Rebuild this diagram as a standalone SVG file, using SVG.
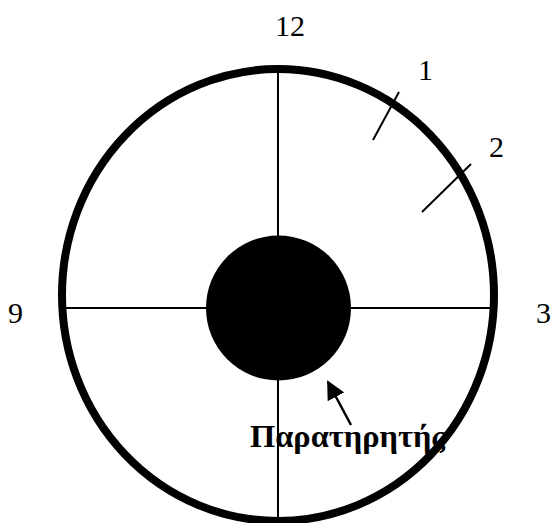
<svg xmlns="http://www.w3.org/2000/svg" width="552" height="523" viewBox="0 0 552 523">
<style>
.lbl{font-family:"Liberation Serif","Times New Roman",serif;font-size:30px;fill:#000}
.obs{font-family:"Liberation Serif","Times New Roman",serif;font-size:32px;font-weight:bold;fill:#000}
.thin{stroke:#000;stroke-width:2;fill:none}
</style>
<defs>
<marker id="ah" viewBox="0 0 10 10" refX="9" refY="5" markerWidth="7.5" markerHeight="7.5" orient="auto" markerUnits="strokeWidth">
<path d="M0,0 L10,5 L0,10 z" fill="#000"/>
</marker>
</defs>
<rect width="552" height="523" fill="#fff"/>
<g id="dial">
<ellipse cx="278" cy="295" rx="216" ry="226" fill="none" stroke="#000" stroke-width="8"/>
</g>
<g id="connectors">
<line class="thin" x1="278" y1="69" x2="278" y2="523"/>
<line class="thin" x1="62" y1="308" x2="494" y2="308"/>
<line class="thin" x1="373" y1="140" x2="399" y2="92"/>
<line class="thin" x1="422" y1="212" x2="471" y2="164"/>
<line stroke="#000" stroke-width="2.5" x1="351" y1="425" x2="328" y2="382" marker-end="url(#ah)"/>
</g>
<g id="observer">
<circle cx="278.5" cy="308" r="72.5" fill="#000"/>
</g>
<g id="labels">
<text class="lbl" x="275" y="36">12</text>
<text class="lbl" x="418" y="80">1</text>
<text class="lbl" x="489" y="157">2</text>
<text class="lbl" x="8" y="323">9</text>
<text class="lbl" x="536" y="323">3</text>
<text class="obs" x="250" y="447" textLength="195" lengthAdjust="spacingAndGlyphs">Παρατηρητής</text>
</g>
</svg>
